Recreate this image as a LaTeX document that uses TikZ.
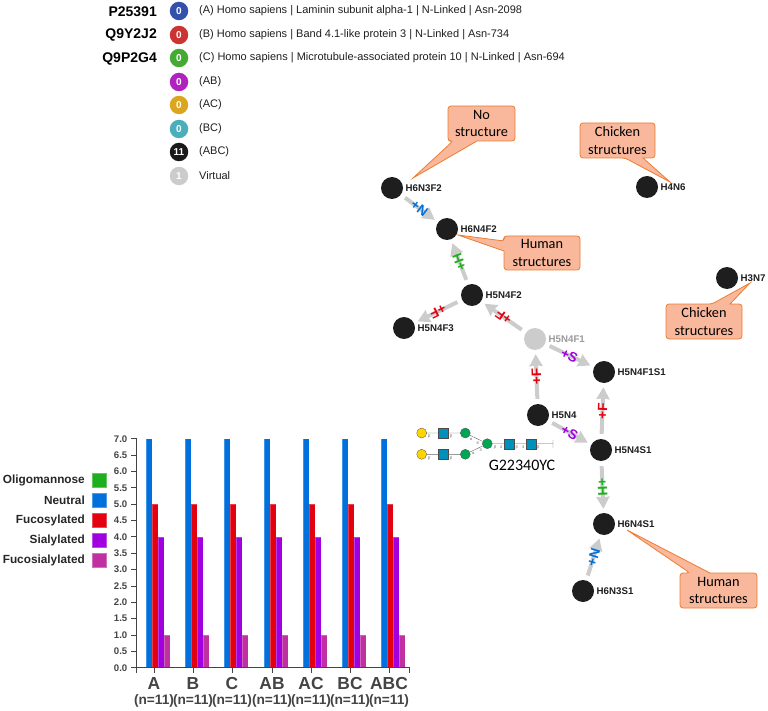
\documentclass[tikz,border=0pt]{standalone}
\usepackage{fontspec}
\setmainfont{Liberation Sans}
\newfontfamily\callfont{Carlito}
\usetikzlibrary{arrows.meta}
\definecolor{linkgray}{HTML}{CCCCCC}
\definecolor{darknode}{HTML}{1E1E1E}
\definecolor{axisgray}{HTML}{444444}
\definecolor{callfill}{HTML}{F9B79B}
\definecolor{callline}{HTML}{ED7D31}
\definecolor{neutralc}{HTML}{0070DC}
\definecolor{fucoc}{HTML}{E3000F}
\definecolor{sialc}{HTML}{A000E0}
\definecolor{fucosialc}{HTML}{C030A0}
\definecolor{oligoc}{HTML}{1DAF1D}
\definecolor{galc}{HTML}{FFD400}
\definecolor{glcnacc}{HTML}{0090BC}
\definecolor{manc}{HTML}{00A651}
\begin{document}
\begin{tikzpicture}[x=1pt,y=-1pt,
		main node/.style={circle,fill=darknode,inner sep=0pt,minimum size=22pt,
			label={[font=\bfseries\fontsize{9.7}{10}\selectfont,text=darknode,label distance=-1pt]right:#1}},
		virtual node/.style={circle,fill=linkgray,inner sep=0pt,minimum size=22pt,
			label={[font=\bfseries\fontsize{9.7}{10}\selectfont,text=black!40,label distance=-1pt]right:#1}},
		link/.style={color=linkgray,line width=4pt,-{Stealth[inset=1pt,length=12pt,width=13pt]},shorten >=4pt,shorten <=5pt},
		plus label/.style={sloped,allow upside down,inner sep=0pt,font=\bfseries\fontsize{13.5}{13.5}\selectfont,text=#1},
		call shape/.style={draw=callline,fill=callfill,line width=0.8pt},
		call text/.style={font=\callfont\fontsize{14.3}{17.5}\selectfont,align=center,inner sep=0pt},
		count dot/.style={circle,fill=#1,inner sep=0pt,minimum size=18.5pt,text=white,font=\bfseries\fontsize{10}{10}\selectfont},
		entry text/.style={anchor=west,inner sep=0pt,font=\fontsize{11}{13}\selectfont,text=darknode},
		acc text/.style={anchor=east,inner sep=0pt,font=\bfseries\fontsize{14}{14}\selectfont},
		tick text/.style={anchor=east,inner sep=0pt,font=\bfseries\fontsize{9.6}{10}\selectfont,text=axisgray},
		class text/.style={anchor=east,inner sep=0pt,font=\bfseries\fontsize{11.8}{12}\selectfont,text=black!85},
		class box/.style={draw=#1!70!white,fill=#1,line width=0.8pt,minimum size=14pt,inner sep=0pt},
		gal/.style={circle,draw=black!70,line width=0.3pt,fill=galc,inner sep=0pt,minimum size=10pt},
		man/.style={circle,draw=black!70,line width=0.3pt,fill=manc,inner sep=0pt,minimum size=10pt},
		gnac/.style={rectangle,draw=black!70,line width=0.3pt,fill=glcnacc,inner sep=0pt,minimum size=10pt},
		bond/.style={font=\fontsize{4}{4}\selectfont,text=black!60,inner sep=0pt}]

		\useasboundingbox (0,0) rectangle (768,711);

		\node[acc text] (p1) at (157,12) {P25391};
		\node[acc text] (p2) at (157,35) {Q9Y2J2};
		\node[acc text] (p3) at (157,59) {Q9P2G4};

		\foreach \name/\ypos/\dotcol/\num/\entry in {
			a/11/3350AB/0/{(A) Homo sapiens | Laminin subunit alpha-1 | N-Linked | Asn-2098},
			b/35/CC3333/0/{(B) Homo sapiens | Band 4.1-like protein 3 | N-Linked | Asn-734},
			c/58/44AA33/0/{(C) Homo sapiens | Microtubule-associated protein 10 | N-Linked | Asn-694},
			ab/82/B022C0/0/{(AB)},
			ac/105/DCA520/0/{(AC)},
			bc/129/4AAEBB/0/{(BC)},
			abc/152/1A1A1A/11/{(ABC)},
			virt/176/CCCCCC/1/{Virtual}} {
			\definecolor{dotc}{HTML}{\dotcol}
			\node[count dot=dotc] (dot\name) at (179,\ypos) {\num};
			\node[entry text] (txt\name) at (199,\ypos) {\entry};
		}

		\draw[call shape] (453,141) [sharp corners] -- (413,178) -- (477,141) [rounded corners=3pt] -- (515,141) -- (515,106) -- (448,106) -- (448,141) -- cycle;
		\node[call text] (call1) at (481.5,123.5) {No\\structure};
		\draw[call shape] (625,158) [sharp corners] -- (670,182) -- (643,158) [rounded corners=3pt] -- (655,158) -- (655,123) -- (580,123) -- (580,158) -- cycle;
		\node[call text] (call2) at (617.5,140.5) {Chicken\\structures};
		\draw[call shape] (504,241) [sharp corners] -- (458,235) -- (504,251) [rounded corners=3pt] -- (504,270) -- (580,270) -- (580,236) -- (504,236) -- cycle;
		\node[call text] (call3) at (542,253) {Human\\structures};
		\draw[call shape] (712,304) [sharp corners] -- (750,283) -- (730,304) [rounded corners=3pt] -- (742,304) -- (742,339) -- (666,339) -- (666,304) -- cycle;
		\node[call text] (call4) at (704,321.5) {Chicken\\structures};
		\draw[call shape] (690,573) [sharp corners] -- (627,530) -- (710,573) [rounded corners=3pt] -- (757,573) -- (757,608) -- (680,608) -- (680,573) -- cycle;
		\node[call text] (call5) at (718.5,590.5) {Human\\structures};

		\node[main node=H6N3F2] (h6n3f2) at (392,188) {};
		\node[main node=H6N4F2] (h6n4f2) at (447,229) {};
		\node[main node=H5N4F2] (h5n4f2) at (472,295) {};
		\node[main node=H5N4F3] (h5n4f3) at (404,328) {};
		\node[virtual node=H5N4F1] (h5n4f1) at (535,339) {};
		\node[main node=H5N4F1S1] (h5n4f1s1) at (604,372) {};
		\node[main node=H5N4] (h5n4) at (538,415) {};
		\node[main node=H5N4S1] (h5n4s1) at (601,450) {};
		\node[main node=H6N4S1] (h6n4s1) at (604,524) {};
		\node[main node=H6N3S1] (h6n3s1) at (583,591) {};
		\node[main node=H4N6] (h4n6) at (647,187) {};
		\node[main node=H3N7] (h3n7) at (727,278) {};

		\path[link]
		(h6n3f2) edge node[plus label=neutralc] {+N} (h6n4f2)
		(h5n4f2) edge node[plus label=oligoc] {+H} (h6n4f2)
		(h5n4f2) edge node[plus label=fucoc] {+F} (h5n4f3)
		(h5n4f1) edge node[plus label=fucoc] {+F} (h5n4f2)
		(h5n4f1) edge node[plus label=sialc] {+S} (h5n4f1s1)
		(h5n4) edge node[plus label=fucoc] {+F} (h5n4f1)
		(h5n4) edge node[plus label=sialc] {+S} (h5n4s1)
		(h5n4s1) edge node[plus label=fucoc] {+F} (h5n4f1s1)
		(h5n4s1) edge node[plus label=oligoc] {+H} (h6n4s1)
		(h6n3s1) edge node[plus label=neutralc] {+N} (h6n4s1);

		\node[gal] (g1) at (421.7,433) {};
		\node[gnac] (g2) at (443.3,433) {};
		\node[man] (g3) at (465.3,433) {};
		\node[gal] (g4) at (421.7,454.3) {};
		\node[gnac] (g5) at (443.3,454.3) {};
		\node[man] (g6) at (465.3,454.3) {};
		\node[man] (g7) at (487.3,443.7) {};
		\node[gnac] (g8) at (509.3,443.7) {};
		\node[gnac] (g9) at (531,443.7) {};
		\coordinate (gend) at (553,443.7);
		\draw[black!60,line width=0.4pt] (g1) -- (g2) (g2) -- (g3) (g3) -- (g7) (g4) -- (g5) (g5) -- (g6) (g6) -- (g7)
		(g7) -- (g8) (g8) -- (g9) (g9) -- (gend) (553,440) -- (gend) -- (553,447.5);
		\foreach \bx/\by/\bt [count=\bi] in {429/436.5/β,451/436.5/β,429/458/β,451/458/β,471/439.3/α,477.7/443.3/6,473.3/453.3/α,480.7/450/3,
			495/447/β,501/447/4,516.7/447.5/β,523.3/447.5/4,538.3/447.5/β}
			\node[bond] (bond\bi) at (\bx,\by) {\bt};
		\node[font=\callfont\fontsize{16}{16}\selectfont,text=black] (gname) at (522,465) {G22340YC};

		\foreach \grp/\gname [count=\gi from 0] in {154/A,193/B,232/C,272/AB,311/AC,350/BC,389/ABC} {
			\fill[neutralc!75!white] (\grp-7.7,438.7) rectangle (\grp-1.7,667.7);
			\fill[neutralc] (\grp-7,439.4) rectangle (\grp-2.4,667.7);
			\fill[fucoc!75!white] (\grp-1.7,504.1) rectangle (\grp+4.3,667.7);
			\fill[fucoc] (\grp-1,504.8) rectangle (\grp+3.6,667.7);
			\fill[sialc!75!white] (\grp+4.3,536.8) rectangle (\grp+10.3,667.7);
			\fill[sialc] (\grp+5,537.5) rectangle (\grp+9.6,667.7);
			\fill[fucosialc!75!white] (\grp+10.3,635) rectangle (\grp+16.3,667.7);
			\fill[fucosialc] (\grp+11,635.7) rectangle (\grp+15.6,667.7);
			\draw[axisgray,line width=0.8pt] (\grp,667.7) -- (\grp,673);
			\node[font=\bfseries\fontsize{17.4}{18}\selectfont,text=axisgray] (grp\gi) at (\grp,683.5) {\gname};
			\node[font=\bfseries\fontsize{13.7}{14}\selectfont,text=axisgray] (num\gi) at (\grp,701) {(n=11)};
		}
		\draw[axisgray,line width=0.8pt] (131,438.7) -- (136.7,438.7) -- (136.7,673) (136.7,667.7) -- (409,667.7) -- (409,673);
		\foreach \tk/\tv in {0/0.0,1/0.5,2/1.0,3/1.5,4/2.0,5/2.5,6/3.0,7/3.5,8/4.0,9/4.5,10/5.0,11/5.5,12/6.0,13/6.5,14/7.0} {
			\pgfmathsetmacro{\ty}{667.7-\tk*16.357}
			\draw[axisgray,line width=0.8pt] (131,\ty) -- (136.7,\ty);
			\node[tick text] (tick\tk) at (127.5,\ty) {\tv};
		}

		\foreach \cname/\ccol/\cy in {Oligomannose/oligoc/480,Neutral/neutralc/500,Fucosylated/fucoc/520,Sialylated/sialc/540,Fucosialylated/fucosialc/560} {
			\node[class text] (lab\ccol) at (85,\cy) {\cname};
			\node[class box=\ccol] (box\ccol) at (99.5,\cy) {};
		}
		\end{tikzpicture}
\end{document}
